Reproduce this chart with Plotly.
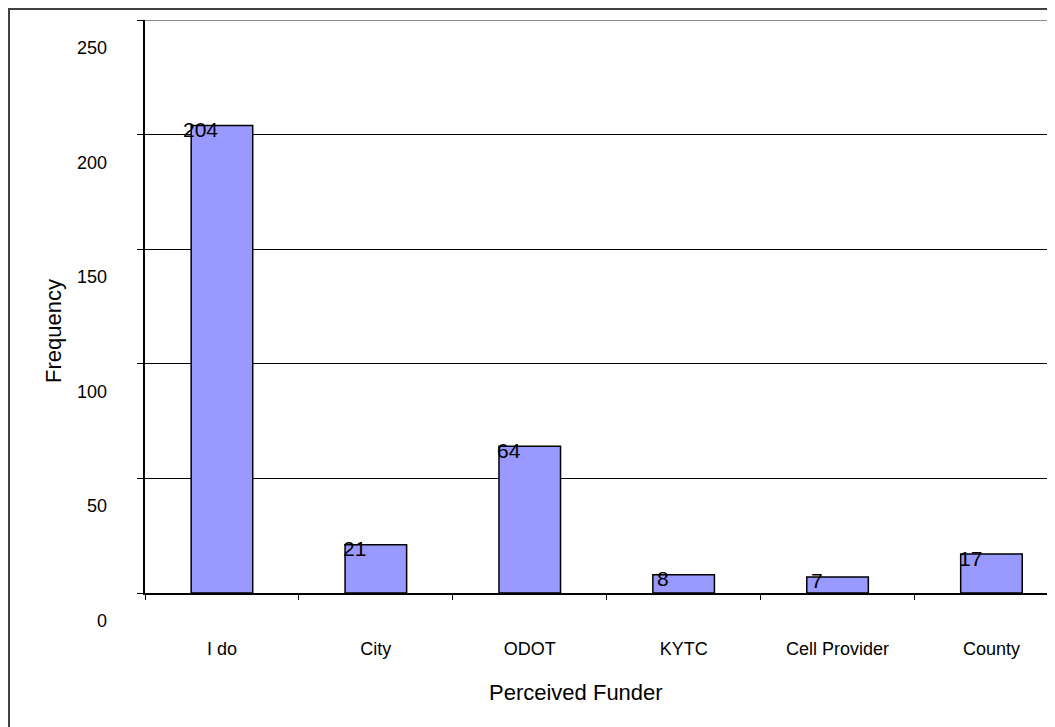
import plotly.graph_objects as go

categories = ["I do", "City", "ODOT", "KYTC", "Cell Provider", "County"]
frequency = [204, 21, 64, 8, 7, 17]
y_ticks = [0, 50, 100, 150, 200, 250]

# page body has an 8px margin; figure sized so it ends at the window edge
OFF = 8
W, H = 1055 - OFF, 727 - OFF
L, T, R = 145 - OFF, 20 - OFF, 0
B = H - (593 - OFF)
PW = W - L - R
PH = H - T - B

def px(x):  # page pixel -> paper
    return (x - OFF - L) / PW

def py(y):
    return (593 - y) / PH

FONT = "Liberation Sans, Arial, sans-serif"

fig = go.Figure()
fig.add_trace(go.Bar(
    x=categories, y=frequency, width=0.4,
    marker=dict(color="#9999FF", line=dict(color="#000000", width=1.5)),
    hoverinfo="skip",
))

ann = []
for c, v in zip(categories, frequency):
    ann.append(dict(x=c, y=v, xref="x", yref="y", text=str(v), showarrow=False,
                    xshift=-21, yshift=-4, font=dict(size=21, color="#000", family=FONT),
                    xanchor="center", yanchor="middle"))
for t in y_ticks:
    ann.append(dict(x=px(109), y=t, xref="paper", yref="y", text=str(t), showarrow=False,
                    yshift=-28, xanchor="right", yanchor="middle",
                    font=dict(size=18, color="#000", family=FONT)))
ann.append(dict(x=px(54), y=py(331), xref="paper", yref="paper", text="Frequency",
                showarrow=False, textangle=-90, xanchor="center", yanchor="middle",
                font=dict(size=22, color="#000", family=FONT)))
ann.append(dict(x=px(576), y=py(692), xref="paper", yref="paper", text="Perceived Funder",
                showarrow=False, xanchor="center", yanchor="middle",
                font=dict(size=22, color="#000", family=FONT)))

shapes = [
    dict(type="line", xref="paper", yref="y", x0=0, x1=1.05, y0=250, y1=250,
         line=dict(color="#8a8a8a", width=2), layer="above"),
    dict(type="rect", xref="paper", yref="paper", x0=px(9), x1=1.2, y0=py(9), y1=-0.5,
         line=dict(color="#404040", width=2), fillcolor="rgba(0,0,0,0)", layer="above"),
]

fig.update_layout(
    width=W, height=H,
    margin=dict(l=L, r=R, t=T, b=B, pad=0),
    paper_bgcolor="white", plot_bgcolor="white",
    showlegend=False,
    annotations=ann, shapes=shapes,
    font=dict(family=FONT, color="#000"),
)
fig.update_xaxes(
    type="category",
    range=[-0.5, -0.5 + PW / 153.9],
    ticks="outside", ticklen=5, tickwidth=1, tickcolor="#000", tickson="boundaries",
    ticklabelstandoff=39,
    showline=True, linecolor="#000", linewidth=1.5,
    showgrid=False, zeroline=False,
    tickfont=dict(size=18, family=FONT, color="#000"),
)
fig.update_yaxes(
    range=[0, 250], tickmode="array", tickvals=y_ticks,
    showticklabels=False, ticks="outside", ticklen=6, tickwidth=1, tickcolor="#000",
    showline=True, linecolor="#000", linewidth=1.5,
    showgrid=True, gridcolor="#000", gridwidth=1, zeroline=False,
)

fig.write_html("out.html")
